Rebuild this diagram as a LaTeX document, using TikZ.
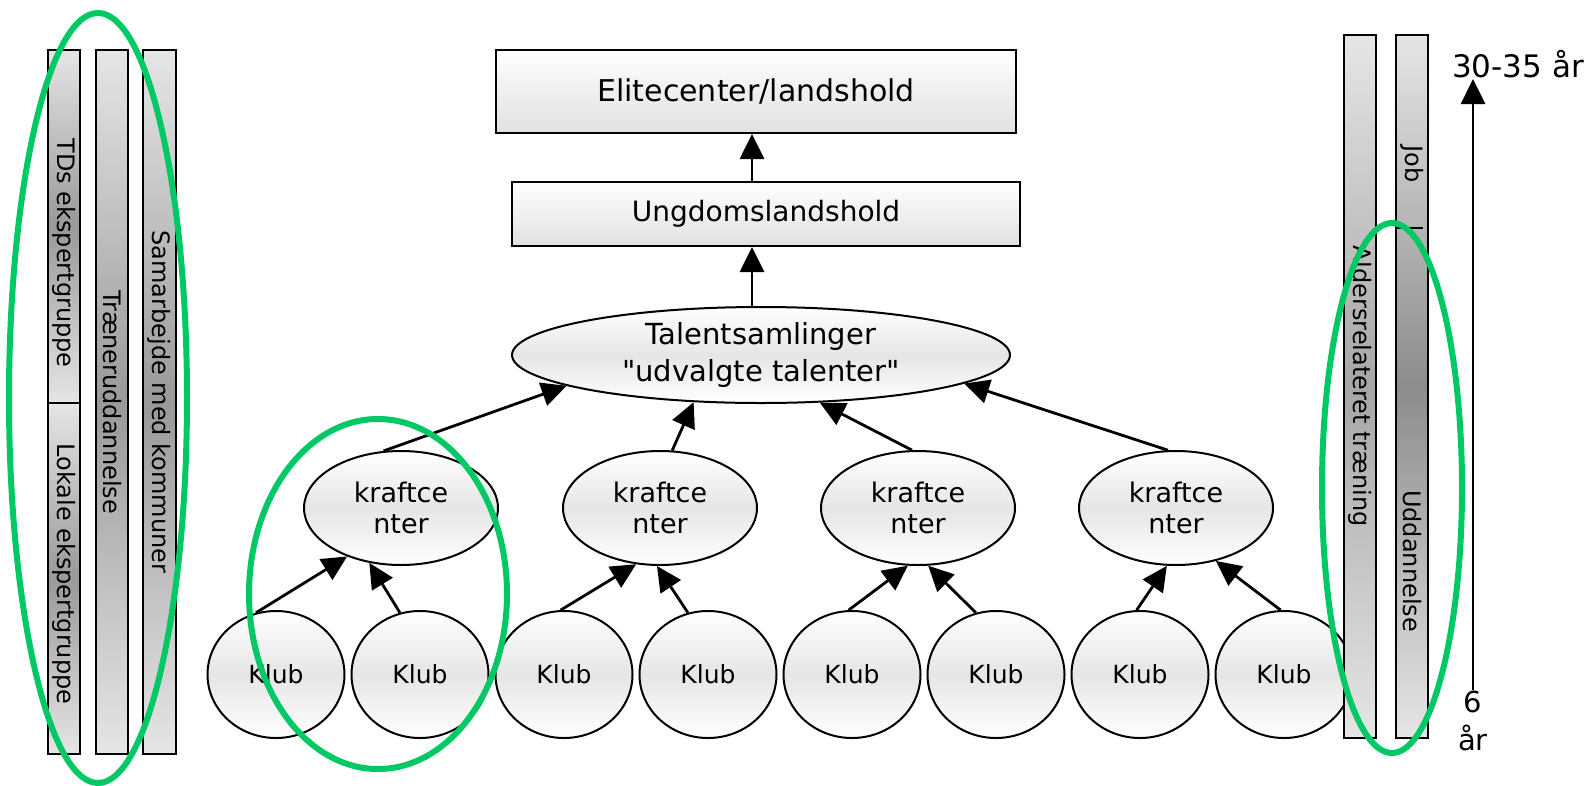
\documentclass[tikz,border=0pt]{standalone}
\usepackage{fontspec}
\setmainfont{DejaVu Sans}
\usetikzlibrary{shapes.geometric,arrows.meta}

\definecolor{ringgreen}{RGB}{0,200,100}

\tikzset{
 box/.style={draw, line width=2pt, top color=white, bottom color=black!12, inner sep=0pt, font=\fontsize{28}{34}\selectfont},
 oval/.style={ellipse, draw, line width=2pt, top color=white, bottom color=white, middle color=black!10, inner sep=0pt, align=center},
 klub/.style={oval, minimum width=137pt, minimum height=127pt, font=\fontsize{25}{28}\selectfont},
 kraft/.style={oval, minimum width=194pt, minimum height=114pt, font=\fontsize{27}{31}\selectfont},
 bar/.style={draw, line width=2.8pt, minimum width=32pt, top color=black!10, bottom color=black!10, middle color=black!40, inner sep=0pt},
 bartext/.style={rotate=-90, font=\fontsize{24}{27}\selectfont, inner sep=0pt},
 arr/.style={-{Triangle[length=25pt,width=24pt]}, line width=2.8pt},
 greenring/.style={draw=ringgreen, line width=6pt}
}

\begin{document}
\begin{tikzpicture}[x=1pt,y=-1pt]
%\draw[help lines] (0,0) grid (1587,785);
\useasboundingbox (0,0) rectangle (1587,785);

 % left bars
 \node[bar, minimum height=353pt] (tds) at (64,226.5) {};
 \node[bar, minimum height=351pt] (lokal) at (64,578.5) {};
 \node[bar, minimum height=704pt] (traener) at (112,402) {};
 \node[bar, minimum height=704pt, minimum width=33pt] (samarb) at (159.5,402) {};
 \node[bartext] (tdstxt) at (64,253) {TDs ekspertgruppe};
 \node[bartext] (lokaltxt) at (64,574) {Lokale ekspertgruppe};
 \node[bartext] (traenertxt) at (112,402) {Træneruddannelse};
 \node[bartext] (samarbtxt) at (159.5,402) {Samarbejde med kommuner};

 % top
 \node[box, minimum width=520pt, minimum height=83pt, font=\fontsize{30}{34}\selectfont] (elite) at (756,91.5) {Elitecenter/landshold};
 \node[box, minimum width=508pt, minimum height=64pt] (ung) at (766,214) {Ungdomslandshold};
 \node[oval, minimum width=498pt, minimum height=96pt, font=\fontsize{29}{37}\selectfont] (tal) at (761,355) {Talentsamlinger\\\textquotedbl udvalgte talenter\textquotedbl};

 \coordinate (mid) at (752,0);
 \draw[arr] (tal.north -| mid) -- (ung.south -| mid);
 \draw[arr] (ung.north -| mid) -- (elite.south -| mid);

 % kraftcentre
 \node[kraft] (kc1) at (401,508) {kraftce\\nter};
 \node[kraft] (kc2) at (660,508) {kraftce\\nter};
 \node[kraft] (kc3) at (918,508) {kraftce\\nter};
 \node[kraft] (kc4) at (1176,508) {kraftce\\nter};

 \draw[arr] (kc1.107) -- (tal.189);
 \draw[arr] (kc2.78) -- (tal.215);
 \draw[arr] (kc3.96) -- (tal.321);
 \draw[arr] (kc4.98) -- (tal.352);

 % klubber
 \node[klub] (k1) at (276,674.5) {Klub};
 \node[klub] (k2) at (420,674.5) {Klub};
 \node[klub] (k3) at (564,674.5) {Klub};
 \node[klub] (k4) at (708,674.5) {Klub};
 \node[klub] (k5) at (852,674.5) {Klub};
 \node[klub] (k6) at (996,674.5) {Klub};
 \node[klub] (k7) at (1140,674.5) {Klub};
 \node[klub] (k8) at (1284,674.5) {Klub};

 \draw[arr] (k1.108) -- (kc1.222);
 \draw[arr] (k2.108) -- (kc1.240);
 \draw[arr] (k3.93) -- (kc2.247);
 \draw[arr] (k4.108) -- (kc2.267);
 \draw[arr] (k5.93) -- (kc3.260);
 \draw[arr] (k6.108) -- (kc3.280);
 \draw[arr] (k7.93) -- (kc4.261);
 \draw[arr] (k8.93) -- (kc4.307);

 % right bars
 \node[bar, minimum height=703pt, middle color=black!35] (alder) at (1360,386.5) {};
 \node[bar, minimum height=703pt, middle color=black!45] (uddan) at (1412,386.5) {};
 \draw[line width=1.2pt] (uddan.west |- 0,228) -- (1423,228);
 \node[bartext] (aldertxt) at (1360,386) {Aldersrelateret træning};
 \node[bartext] (jobtxt) at (1412,164) {Job};
 \node[bartext] (uddantxt) at (1412,561) {Uddannelse};

 % alder
 \node[font=\fontsize{29}{38}\selectfont, align=center, inner sep=1pt] (start) at (1473,721) {6\\år};
 \node[font=\fontsize{31}{34}\selectfont, inner sep=1pt] (slut) at (1518,64) {30-35 år};
 \draw[arr] (start.north) -- (start.north |- slut.south);

 % green rings
 \draw[greenring] (98,398) ellipse [x radius=89pt, y radius=385pt];
 \draw[greenring] (378,594) ellipse [x radius=129pt, y radius=175pt];
 \draw[greenring] (1392,488) ellipse [x radius=70pt, y radius=265pt];

\end{tikzpicture}
\end{document}
